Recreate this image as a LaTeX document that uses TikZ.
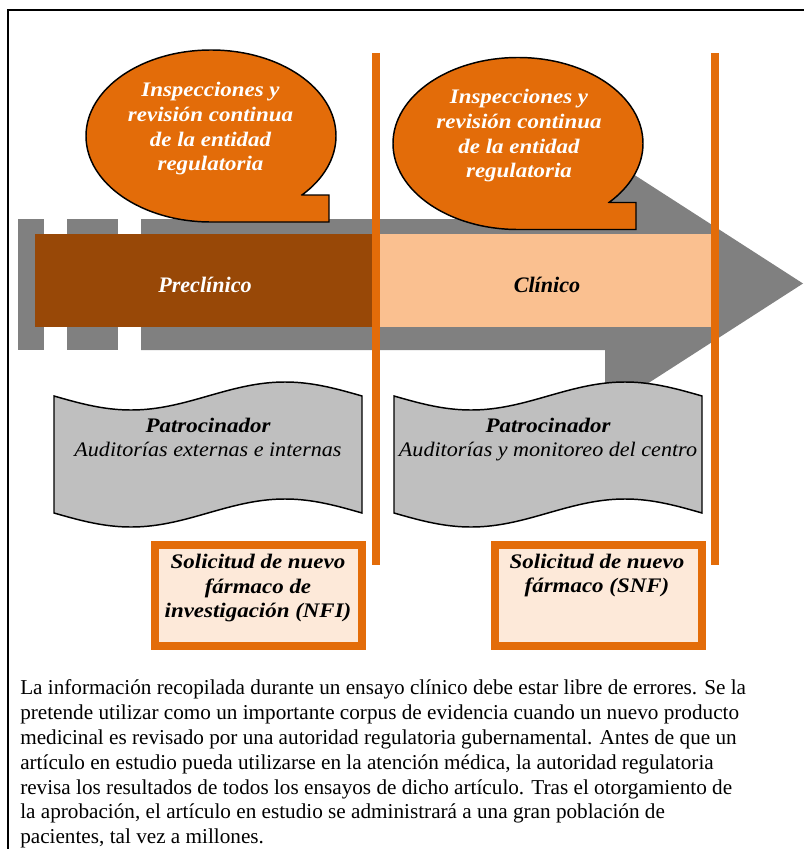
\documentclass[tikz,border=0pt]{standalone}
\usepackage{fontspec}
\setmainfont{Liberation Serif}
\newfontfamily\lblbf[FakeStretch=1.11]{Liberation Serif}
\newfontfamily\lblit[FakeStretch=1.07]{Liberation Serif}
\definecolor{bubbleorange}{HTML}{E36C09}
\definecolor{lineorange}{HTML}{E36C09}
\definecolor{preclin}{HTML}{984807}
\definecolor{clin}{HTML}{FAC090}
\definecolor{arrowgray}{HTML}{808080}
\definecolor{scrollgray}{HTML}{BFBFBF}
\definecolor{boxfill}{HTML}{FDE9D9}
\begin{document}
\begin{tikzpicture}[x=0.75pt,y=-0.75pt,
  bubble/.style={fill=bubbleorange,draw=black,line width=1.1pt,line join=miter},
  scrollshape/.style={fill=scrollgray,draw=black,line width=1.1pt},
  phasebar/.style={draw=none,inner sep=0pt,anchor=north west},
  divider/.style={draw=lineorange,line width=5.6pt},
  appbox/.style={draw=lineorange,fill=boxfill,line width=6pt,inner sep=0pt},
  lbl/.style={inner sep=0pt,align=center,font=\fontsize{15.5}{18.5}\selectfont\lblbf\bfseries\itshape},
  phaselbl/.style={inner sep=0pt,anchor=base,font=\fontsize{16.6}{19}\selectfont\bfseries\itshape},
  body/.style={inner sep=0pt,align=left,anchor=west,font=\fontsize{15.9}{18.6}\selectfont}
]
\useasboundingbox (0,0) rectangle (803,849);
% outer frame
\draw[line width=1.2pt] (8,10) rectangle (812,862);

% grey arrow
\fill[arrowgray] (18,219) rectangle (44,350);
\fill[arrowgray] (67,219) rectangle (118,350);
\fill[arrowgray] (141,219) -- (605,219) -- (605,156) -- (803,283.5) -- (605,411) -- (605,350) -- (141,350) -- cycle;

% phase bars
\node[phasebar,fill=preclin,minimum width=252.75pt,minimum height=69.75pt] (pre) at (35,234) {};
\node[phasebar,fill=clin,minimum width=259.5pt,minimum height=69.75pt] (cli) at (372,234) {};
\node[phaselbl,text=white] (prelbl) at (205,292) {Preclínico};
\node[phaselbl,text=black] (clilbl) at (547,292) {Clínico};

% callout bubbles
\filldraw[bubble] (302,195) -- (329,195) -- (329,222) -- (211,222)
   arc[start angle=90,end angle=403.3,x radius=125,y radius=86] -- cycle;
\begin{scope}[shift={(307,7.5)}]
\filldraw[bubble] (302,195) -- (329,195) -- (329,222) -- (211,222)
   arc[start angle=90,end angle=403.3,x radius=125,y radius=86] -- cycle;
\end{scope}
\node[lbl,text=white] (insp1) at (210.5,129) {\strut Inspecciones y\\revisión continua\\de la entidad\\regulatoria\strut};
\node[lbl,text=white] (insp2) at (519,136) {\strut Inspecciones y\\revisión continua\\de la entidad\\regulatoria\strut};

% scrolls
\filldraw[scrollshape] plot[domain=0:360,samples=73] ({54+0.855556*\x},{396+14*sin(\x)})
   -- plot[domain=360:0,samples=73] ({54+0.855556*\x},{513+14*sin(\x)}) -- cycle;
\filldraw[scrollshape] plot[domain=0:360,samples=73] ({394+0.855556*\x},{396+14*sin(\x)})
   -- plot[domain=360:0,samples=73] ({394+0.855556*\x},{513+14*sin(\x)}) -- cycle;
\node[lbl] (spon1) at (208,439.6) {\strut Patrocinador\\\lblit\mdseries\itshape Auditorías externas e internas\strut};
\node[lbl] (spon2) at (548,439.6) {\strut Patrocinador\\\lblit\mdseries\itshape Auditorías y monitoreo del centro\strut};

% dividers
\draw[divider] (376,53) -- (376,565);
\draw[divider] (715,53) -- (715,565);

% application boxes
\node[appbox,minimum width=155.25pt,minimum height=75.75pt] (nfi) at (258.5,595.5) {};
\node[appbox,minimum width=155.25pt,minimum height=75.75pt] (snf) at (598,595.5) {};
\node[lbl] (nfilbl) at (258,588.1) {\strut Solicitud de nuevo\\fármaco de\\investigación (NFI)\strut};
\node[lbl] (snflbl) at (597,575.6) {\strut Solicitud de nuevo\\fármaco (SNF)\strut};

% body text
\node[body] (para) at (20,764.4) {\strut La información recopilada durante un ensayo clínico debe estar libre de errores. Se la\\
pretende utilizar como un importante corpus de evidencia cuando un nuevo producto\\
medicinal es revisado por una autoridad regulatoria gubernamental. Antes de que un\\
artículo en estudio pueda utilizarse en la atención médica, la autoridad regulatoria\\
revisa los resultados de todos los ensayos de dicho artículo. Tras el otorgamiento de\\
la aprobación, el artículo en estudio se administrará a una gran población de\\
pacientes, tal vez a millones.\strut};
\end{tikzpicture}
\end{document}
